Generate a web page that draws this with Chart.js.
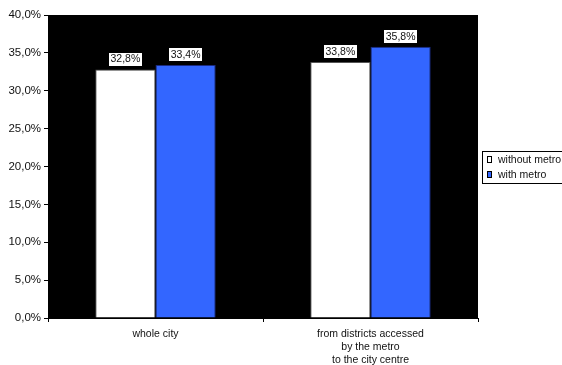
<!DOCTYPE html>
<html>
<head>
<meta charset="utf-8">
<script src="https://cdn.jsdelivr.net/npm/chart.js@4/dist/chart.umd.min.js"></script>
<style>
  html, body { margin: 0; padding: 0; background: #ffffff; }
  #wrap { width: 562px; height: 365px; position: relative; }
</style>
</head>
<body>
<div id="wrap"><canvas id="chart" width="562" height="365"></canvas></div>
<script>
// Share of trips (%), by area, without and with the metro
const categories = ['whole city', ['from districts accessed', 'by the metro', 'to the city centre']];
const seriesNames = ['without metro', 'with metro'];
const withoutMetro = [32.8, 33.8];
const withMetro = [33.4, 35.8];
const yMax = 40;
const yStep = 5;

const FONT = 'Arial, "Liberation Sans", sans-serif';
const TEXT = '#111111';
const fmtPct = v => v.toFixed(1).replace('.', ',') + '%';

// Black plot background
const plotBackground = {
  id: 'plotBackground',
  beforeDraw(chart) {
    const { ctx, chartArea: a } = chart;
    ctx.save();
    ctx.fillStyle = '#000000';
    ctx.fillRect(a.left, a.top, a.right - a.left, a.bottom - a.top);
    ctx.restore();
  }
};

// Value labels on white boxes above each bar
const valueLabels = {
  id: 'valueLabels',
  afterDatasetsDraw(chart) {
    const { ctx } = chart;
    ctx.save();
    ctx.font = '10.5px ' + FONT;
    ctx.textAlign = 'center';
    ctx.textBaseline = 'middle';
    chart.data.datasets.forEach((ds, di) => {
      const meta = chart.getDatasetMeta(di);
      meta.data.forEach((bar, i) => {
        const text = fmtPct(ds.data[i]);
        const w = ctx.measureText(text).width + 3;
        const h = 13;
        const bottom = bar.y - 4;
        ctx.fillStyle = '#ffffff';
        ctx.fillRect(Math.round(bar.x - w / 2), Math.round(bottom - h), Math.round(w), h);
        ctx.fillStyle = TEXT;
        ctx.fillText(text, bar.x, bottom - h / 2 + 0.5);
      });
    });
    ctx.restore();
  }
};

// Boxed legend to the right of the plot
const boxedLegend = {
  id: 'boxedLegend',
  afterDraw(chart) {
    const { ctx } = chart;
    const x = 482, y = 151, w = 100, h = 32;
    ctx.save();
    ctx.fillStyle = '#ffffff';
    ctx.fillRect(x, y, w, h);
    ctx.strokeStyle = '#000000';
    ctx.lineWidth = 1;
    ctx.strokeRect(x + 0.5, y + 0.5, w, h);
    ctx.font = '10.5px ' + FONT;
    ctx.textBaseline = 'middle';
    ctx.textAlign = 'left';
    chart.data.datasets.forEach((ds, i) => {
      const cy = y + 9 + i * 15;
      ctx.fillStyle = '#000000';
      ctx.fillRect(x + 5, cy - 4, 5, 7);
      ctx.fillStyle = ds.backgroundColor;
      ctx.fillRect(x + 6, cy - 3, 3, 5);
      ctx.fillStyle = TEXT;
      ctx.fillText(ds.label, x + 16, cy);
    });
    ctx.restore();
  }
};

new Chart(document.getElementById('chart'), {
  type: 'bar',
  data: {
    labels: categories,
    datasets: [
      {
        label: seriesNames[0],
        data: withoutMetro,
        backgroundColor: '#ffffff',
        borderColor: '#555555',
        borderWidth: 1
      },
      {
        label: seriesNames[1],
        data: withMetro,
        backgroundColor: '#3366ff',
        borderColor: '#1a2a80',
        borderWidth: 1
      }
    ]
  },
  options: {
    responsive: false,
    animation: false,
    devicePixelRatio: 1,
    font: { family: FONT },
    layout: { padding: { top: 15, right: 84, left: 0, bottom: 0 } },
    datasets: {
      bar: { categoryPercentage: 0.56, barPercentage: 1.0 }
    },
    plugins: {
      legend: { display: false },
      tooltip: { enabled: false }
    },
    scales: {
      x: {
        offset: true,
        grid: {
          offset: true,
          drawOnChartArea: false,
          drawTicks: true,
          tickLength: 4,
          color: '#000000'
        },
        border: { display: true, color: '#000000' },
        ticks: {
          color: TEXT,
          font: { family: FONT, size: 10.5, lineHeight: 1.22 },
          padding: 6,
          maxRotation: 0
        },
        afterFit(scale) { scale.height = 47; }
      },
      y: {
        min: 0,
        max: yMax,
        grid: {
          drawOnChartArea: false,
          drawTicks: true,
          tickLength: 4,
          color: '#000000'
        },
        border: { display: true, color: '#000000' },
        ticks: {
          stepSize: yStep,
          color: TEXT,
          font: { family: FONT, size: 11.5 },
          padding: 3,
          callback: v => fmtPct(v)
        },
        afterFit(scale) { scale.width = 48; }
      }
    }
  },
  plugins: [plotBackground, valueLabels, boxedLegend]
});
</script>
</body>
</html>
